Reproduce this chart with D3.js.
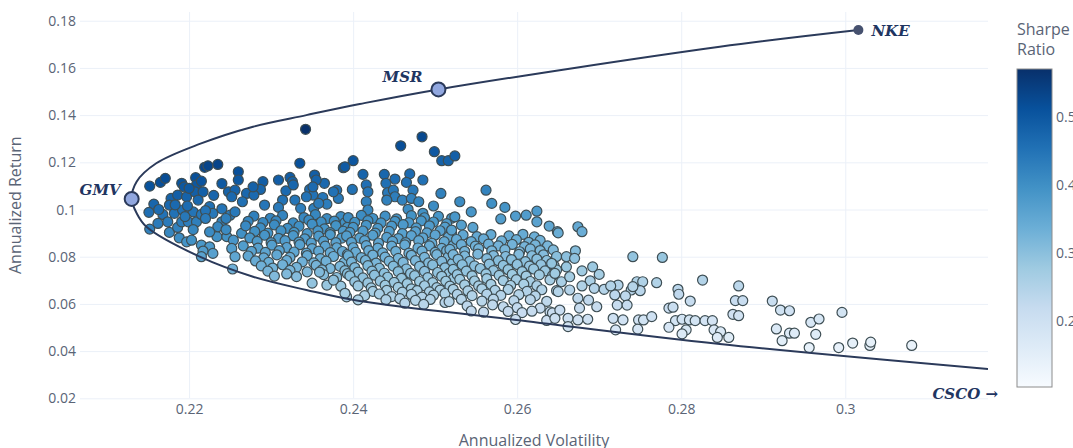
<!DOCTYPE html>
<html>
<head>
<meta charset="utf-8">
<script src="https://cdn.jsdelivr.net/npm/d3@7"></script>
<style>
  body { margin: 0; background: #fff; }
  text { font-family: "Open Sans", sans-serif; }
</style>
</head>
<body>
<div id="chart"></div>
<script>
// simulated portfolios: [annualized volatility, annualized return]
const portfolios = [
  [0.2152,0.1099],[0.2165,0.1115],[0.2171,0.1132],[0.2219,0.1179],[0.2223,0.1185],[0.2235,0.1191],[0.2208,0.1135],[0.2191,0.1111],
  [0.2194,0.1096],[0.2209,0.1104],[0.2178,0.1047],[0.2176,0.1019],[0.2186,0.1061],[0.2197,0.1054],[0.2207,0.1075],[0.2217,0.1075],
  [0.2211,0.1040],[0.2157,0.1023],[0.2151,0.0988],[0.2168,0.0979],[0.2162,0.0941],[0.2174,0.0948],[0.2152,0.0917],[0.2176,0.0903],
  [0.2186,0.0924],[0.2191,0.0948],[0.2199,0.0948],[0.2209,0.0948],[0.2182,0.0984],[0.2192,0.0998],[0.2205,0.0990],[0.2215,0.0979],
  [0.2225,0.1012],[0.2229,0.0984],[0.2240,0.0948],[0.2250,0.0976],[0.2256,0.0990],[0.2248,0.1075],[0.2256,0.1082],[0.2260,0.1160],
  [0.2260,0.1125],[0.2252,0.1054],[0.2188,0.0880],[0.2197,0.0863],[0.2203,0.0870],[0.2215,0.0849],[0.2225,0.0842],[0.2217,0.0824],
  [0.2229,0.0814],[0.2215,0.0800],[0.2234,0.0885],[0.2246,0.0885],[0.2254,0.0870],[0.2252,0.0835],[0.2256,0.0800],[0.2253,0.0748],
  [0.2235,0.0927],[0.2264,0.0899],
  [0.2183,0.1020],[0.2198,0.1015],[0.2220,0.0995],[0.2240,0.1003],[0.2245,0.0962],[0.2220,0.0962],[0.2195,0.0970],[0.2163,0.1000],
  [0.2200,0.1090],[0.2230,0.1060],[0.2240,0.1110],[0.2215,0.1120],[0.2225,0.0905],[0.2245,0.0915],[0.2205,0.0915],
  [0.2342,0.1340],[0.2335,0.1196],[0.2388,0.1177],[0.2290,0.1118],[0.2309,0.1125],[0.2323,0.1136],[0.2326,0.1118],[0.2353,0.1146],
  [0.2365,0.1111],[0.2355,0.1125],[0.2287,0.1085],[0.2270,0.1068],[0.2279,0.1061],[0.2318,0.1079],[0.2347,0.1085],[0.2351,0.1061],
  [0.2380,0.1082],[0.2382,0.1047],[0.2314,0.1040],[0.2329,0.1040],[0.2363,0.1051],[0.2368,0.1023],[0.2309,0.1009],[0.2292,0.1019],
  [0.2265,0.1033],[0.2352,0.1005],[0.2336,0.1005],
  [0.2279,0.0972],[0.2299,0.0963],[0.2314,0.0975],[0.2340,0.0966],[0.2354,0.0978],[0.2368,0.0961],[0.2385,0.0970],
  [0.2272,0.0950],[0.2290,0.0945],[0.2306,0.0952],[0.2327,0.0943],[0.2346,0.0955],[0.2361,0.0947],[0.2377,0.0951],[0.2390,0.0944],
  [0.2269,0.0931],[0.2287,0.0922],[0.2304,0.0935],[0.2320,0.0920],[0.2334,0.0929],[0.2350,0.0938],[0.2365,0.0918],[0.2379,0.0932],[0.2393,0.0924],
  [0.2280,0.0907],[0.2296,0.0900],[0.2312,0.0910],[0.2328,0.0903],[0.2344,0.0898],[0.2357,0.0909],[0.2372,0.0902],[0.2388,0.0908],
  [0.2274,0.0880],[0.2292,0.0891],[0.2309,0.0878],[0.2327,0.0889],[0.2341,0.0876],[0.2358,0.0887],[0.2372,0.0894],[0.2386,0.0879],
  [0.2283,0.0865],[0.2300,0.0860],[0.2317,0.0868],[0.2334,0.0862],[0.2349,0.0858],[0.2364,0.0866],[0.2379,0.0860],
  [0.2266,0.0846],[0.2284,0.0836],[0.2301,0.0849],[0.2319,0.0839],[0.2335,0.0851],[0.2350,0.0834],[0.2366,0.0845],[0.2380,0.0838],
  [0.2276,0.0823],[0.2293,0.0818],[0.2310,0.0826],[0.2328,0.0820],[0.2343,0.0815],[0.2358,0.0824],[0.2372,0.0817],[0.2387,0.0822],
  [0.2272,0.0803],[0.2291,0.0795],[0.2307,0.0808],[0.2323,0.0797],[0.2344,0.0805],[0.2360,0.0792],[0.2376,0.0801],[0.2393,0.0810],
  [0.2281,0.0782],[0.2297,0.0776],[0.2319,0.0784],[0.2338,0.0778],[0.2352,0.0774],[0.2367,0.0781],[0.2389,0.0776],
  [0.2288,0.0761],[0.2302,0.0752],[0.2314,0.0766],[0.2331,0.0755],[0.2355,0.0763],[0.2372,0.0750],[0.2384,0.0759],
  [0.2296,0.0739],[0.2323,0.0742],[0.2344,0.0736],[0.2362,0.0744],[0.2390,0.0741],
  [0.2304,0.0718],[0.2319,0.0727],[0.2331,0.0716],[0.2364,0.0724],[0.2380,0.0712],[0.2393,0.0728],
  [0.2350,0.0688],[0.2368,0.0680],[0.2385,0.0675],
  [0.2392,0.0630],[0.2359,0.0735],[0.2376,0.0701],
  [0.2278,0.1096],[0.2327,0.1104],[0.2343,0.1054],[0.2351,0.1096],[0.2358,0.1026],[0.2376,0.1075],
  [0.2484,0.1308],[0.2458,0.1270],[0.2499,0.1245],[0.2508,0.1207],[0.2516,0.1207],[0.2400,0.1207],[0.2390,0.1181],[0.2412,0.1149],
  [0.2438,0.1149],[0.2451,0.1129],[0.2469,0.1151],[0.2465,0.1115],[0.2485,0.1125],[0.2416,0.1104],[0.2418,0.1075],[0.2399,0.1085],
  [0.2440,0.1111],[0.2442,0.1071],[0.2449,0.1082],[0.2451,0.1054],[0.2460,0.1040],[0.2473,0.1082],[0.2471,0.1047],[0.2480,0.1033],
  [0.2507,0.1068],[0.2498,0.1015],[0.2416,0.1033],[0.2441,0.1040],[0.2418,0.0998],[0.2467,0.1001],[0.2485,0.0984],
  [0.2394,0.0966],[0.2410,0.0975],[0.2424,0.0962],[0.2439,0.0972],[0.2453,0.0960],[0.2471,0.0974],[0.2487,0.0965],[0.2504,0.0971],[0.2520,0.0963],
  [0.2402,0.0946],[0.2418,0.0953],[0.2434,0.0943],[0.2451,0.0950],[0.2468,0.0944],[0.2483,0.0952],[0.2498,0.0947],[0.2514,0.0940],
  [0.2400,0.0924],[0.2416,0.0933],[0.2430,0.0920],[0.2447,0.0930],[0.2461,0.0936],[0.2477,0.0922],[0.2493,0.0931],[0.2512,0.0925],
  [0.2396,0.0903],[0.2412,0.0909],[0.2427,0.0900],[0.2444,0.0907],[0.2460,0.0898],[0.2476,0.0906],[0.2490,0.0901],[0.2506,0.0910],[0.2520,0.0903],
  [0.2392,0.0888],[0.2408,0.0879],[0.2424,0.0891],[0.2441,0.0882],[0.2455,0.0877],[0.2471,0.0889],[0.2485,0.0880],[0.2500,0.0892],[0.2516,0.0883],
  [0.2398,0.0861],[0.2414,0.0868],[0.2431,0.0858],[0.2448,0.0865],[0.2464,0.0860],[0.2480,0.0868],[0.2496,0.0857],[0.2511,0.0864],
  [0.2400,0.0838],[0.2416,0.0847],[0.2430,0.0836],[0.2447,0.0845],[0.2463,0.0850],[0.2479,0.0837],[0.2493,0.0846],[0.2508,0.0835],[0.2522,0.0848],
  [0.2403,0.0819],[0.2419,0.0826],[0.2436,0.0816],[0.2452,0.0823],[0.2468,0.0815],[0.2484,0.0824],[0.2500,0.0818],[0.2514,0.0826],
  [0.2394,0.0804],[0.2410,0.0796],[0.2424,0.0807],[0.2439,0.0798],[0.2455,0.0793],[0.2471,0.0806],[0.2487,0.0797],[0.2502,0.0809],[0.2516,0.0799],
  [0.2398,0.0777],[0.2415,0.0784],[0.2428,0.0773],[0.2444,0.0781],[0.2461,0.0776],[0.2476,0.0783],[0.2492,0.0774],[0.2508,0.0780],[0.2521,0.0772],
  [0.2402,0.0754],[0.2418,0.0762],[0.2432,0.0751],[0.2449,0.0760],[0.2465,0.0748],[0.2481,0.0759],[0.2497,0.0765],[0.2512,0.0753],
  [0.2406,0.0735],[0.2423,0.0739],[0.2438,0.0730],[0.2455,0.0737],[0.2470,0.0729],[0.2487,0.0738],[0.2503,0.0733],[0.2517,0.0729],
  [0.2396,0.0719],[0.2412,0.0710],[0.2426,0.0722],[0.2442,0.0713],[0.2459,0.0708],[0.2475,0.0720],[0.2491,0.0711],[0.2508,0.0717],[0.2522,0.0706],
  [0.2402,0.0694],[0.2418,0.0689],[0.2433,0.0697],[0.2450,0.0691],[0.2466,0.0686],[0.2481,0.0695],[0.2497,0.0690],[0.2513,0.0696],
  [0.2406,0.0676],[0.2422,0.0668],[0.2439,0.0679],[0.2455,0.0670],[0.2471,0.0664],[0.2487,0.0677],[0.2502,0.0669],[0.2518,0.0675],
  [0.2424,0.0653],[0.2441,0.0657],[0.2460,0.0650],[0.2478,0.0656],[0.2493,0.0651],[0.2506,0.0658],
  [0.2414,0.0635],[0.2432,0.0642],[0.2447,0.0631],[0.2471,0.0640],[0.2484,0.0629],[0.2498,0.0637],[0.2512,0.0644],
  [0.2440,0.0618],[0.2457,0.0622],[0.2476,0.0615],[0.2494,0.0619],
  [0.2463,0.0603],[0.2486,0.0598],[0.2512,0.0606],[0.2390,0.0645],[0.2406,0.0617],
  [0.2524,0.1227],[0.2562,0.1082],[0.2530,0.1033],[0.2569,0.1026],[0.2585,0.1009],[0.2544,0.0990],[0.2580,0.0960],[0.2598,0.0972],
  [0.2611,0.0976],[0.2624,0.0993],[0.2624,0.0948],[0.2639,0.0930],[0.2649,0.0906],[0.2524,0.0969],[0.2532,0.0934],[0.2546,0.0924],[0.2520,0.0913],
  [0.2534,0.0892],[0.2551,0.0885],[0.2568,0.0894],[0.2590,0.0888],[0.2607,0.0895],[0.2621,0.0884],
  [0.2526,0.0873],[0.2544,0.0864],[0.2559,0.0876],[0.2581,0.0867],[0.2599,0.0872],[0.2614,0.0861],[0.2628,0.0869],
  [0.2532,0.0851],[0.2549,0.0845],[0.2565,0.0853],[0.2577,0.0846],[0.2594,0.0852],[0.2609,0.0843],[0.2622,0.0850],[0.2637,0.0846],
  [0.2518,0.0831],[0.2536,0.0823],[0.2553,0.0834],[0.2569,0.0825],[0.2585,0.0830],[0.2603,0.0821],[0.2616,0.0833],[0.2628,0.0826],[0.2644,0.0829],
  [0.2522,0.0809],[0.2536,0.0803],[0.2552,0.0811],[0.2571,0.0805],[0.2586,0.0801],[0.2602,0.0810],[0.2618,0.0804],[0.2632,0.0808],[0.2648,0.0801],
  [0.2528,0.0789],[0.2542,0.0780],[0.2563,0.0792],[0.2577,0.0783],[0.2593,0.0788],[0.2610,0.0779],[0.2624,0.0790],[0.2636,0.0784],
  [0.2533,0.0766],[0.2548,0.0761],[0.2566,0.0769],[0.2583,0.0763],[0.2600,0.0767],[0.2615,0.0760],[0.2629,0.0766],[0.2645,0.0762],
  [0.2522,0.0746],[0.2538,0.0739],[0.2555,0.0750],[0.2571,0.0741],[0.2589,0.0745],[0.2606,0.0737],[0.2620,0.0748],[0.2634,0.0740],[0.2648,0.0744],
  [0.2527,0.0724],[0.2545,0.0719],[0.2562,0.0727],[0.2578,0.0721],[0.2594,0.0725],[0.2611,0.0718],[0.2627,0.0723],[0.2643,0.0720],
  [0.2530,0.0704],[0.2548,0.0697],[0.2563,0.0707],[0.2583,0.0699],[0.2599,0.0703],[0.2616,0.0695],[0.2640,0.0702],
  [0.2536,0.0681],[0.2553,0.0676],[0.2568,0.0683],[0.2592,0.0678],[0.2608,0.0684],[0.2624,0.0677],
  [0.2522,0.0662],[0.2540,0.0655],[0.2557,0.0664],[0.2573,0.0657],[0.2589,0.0661],[0.2612,0.0653],[0.2630,0.0660],[0.2648,0.0656],
  [0.2527,0.0640],[0.2545,0.0635],[0.2563,0.0641],[0.2580,0.0636],[0.2602,0.0639],[0.2622,0.0634],
  [0.2532,0.0619],[0.2557,0.0612],[0.2571,0.0620],[0.2596,0.0614],[0.2616,0.0618],[0.2636,0.0611],
  [0.2539,0.0592],[0.2583,0.0588],[0.2600,0.0584],[0.2628,0.0582],
  [0.2544,0.0570],[0.2559,0.0565],[0.2589,0.0568],[0.2606,0.0563],[0.2618,0.0569],[0.2640,0.0566],
  [0.2598,0.0534],[0.2636,0.0530],[0.2517,0.0610],[0.2570,0.0596],[0.2643,0.0562],[0.2642,0.0772],[0.2660,0.0800],
  [0.2650,0.0901],[0.2674,0.0927],[0.2679,0.0906],[0.2671,0.0825],[0.2670,0.0793],[0.2741,0.0800],[0.2777,0.0797],[0.2660,0.0757],
  [0.2679,0.0740],[0.2700,0.0725],[0.2646,0.0729],[0.2654,0.0694],[0.2664,0.0715],[0.2689,0.0698],[0.2679,0.0676],[0.2694,0.0666],
  [0.2706,0.0662],[0.2723,0.0680],[0.2746,0.0694],[0.2753,0.0694],[0.2770,0.0690],[0.2739,0.0659],[0.2750,0.0656],[0.2650,0.0652],
  [0.2664,0.0659],[0.2674,0.0624],[0.2687,0.0616],[0.2697,0.0588],[0.2719,0.0638],[0.2732,0.0634],[0.2722,0.0595],[0.2734,0.0595],
  [0.2676,0.0582],[0.2652,0.0574],[0.2662,0.0539],[0.2674,0.0532],[0.2686,0.0535],[0.2717,0.0539],[0.2729,0.0532],[0.2748,0.0532],
  [0.2754,0.0532],[0.2764,0.0546],[0.2662,0.0504],[0.2720,0.0490],[0.2747,0.0493],[0.2646,0.0539],
  [0.2692,0.0757],[0.2714,0.0676],[0.2741,0.0673],
  [0.2826,0.0701],[0.2870,0.0676],[0.2796,0.0662],[0.2797,0.0641],[0.2811,0.0612],[0.2866,0.0614],[0.2875,0.0614],[0.2863,0.0556],
  [0.2870,0.0550],[0.2785,0.0582],[0.2790,0.0586],[0.2793,0.0529],[0.2801,0.0535],[0.2810,0.0532],[0.2817,0.0529],[0.2829,0.0529],
  [0.2838,0.0529],[0.2785,0.0501],[0.2806,0.0490],[0.2801,0.0473],[0.2840,0.0490],[0.2848,0.0482],[0.2844,0.0458],[0.2858,0.0458],
  [0.2911,0.0612],[0.2921,0.0574],[0.2932,0.0571],[0.2916,0.0494],[0.2923,0.0444],[0.2932,0.0476],[0.2938,0.0476],[0.2958,0.0522],
  [0.2968,0.0536],[0.2964,0.0471],[0.2956,0.0415],[0.2996,0.0564],[0.2992,0.0415],[0.3009,0.0434],[0.3030,0.0424],[0.3031,0.0438],
  [0.3081,0.0424]
];

// efficient frontier, from the CSCO side through GMV up to NKE
const frontier = [
  [0.3174,0.0324],[0.2847,0.0430],[0.2599,0.0532],[0.2408,0.0612],[0.2343,0.0659],[0.2278,0.0715],[0.2213,0.0800],
  [0.2148,0.0927],[0.2136,0.0985],[0.2130,0.1045],[0.2136,0.1118],[0.2160,0.1196],[0.2213,0.1278],[0.2278,0.1351],
  [0.2343,0.1400],[0.2408,0.1447],[0.2504,0.1509],[0.2847,0.1690],[0.3016,0.1761]
];

const gmv = [0.2130, 0.1045];
const msr = [0.2504, 0.1509];
const nke = [0.3016, 0.1761];

const xTicks = [0.22, 0.24, 0.26, 0.28, 0.3];
const yTicks = [0.02, 0.04, 0.06, 0.08, 0.1, 0.12, 0.14, 0.16, 0.18];
const cbTicks = [0.2, 0.3, 0.4, 0.5];
const sharpeRange = [0.104, 0.570];
const blues = ["rgb(247,251,255)","rgb(222,235,247)","rgb(198,219,239)","rgb(158,202,225)",
               "rgb(107,174,214)","rgb(66,146,198)","rgb(33,113,181)","rgb(8,81,156)","rgb(8,48,107)"];

const width = 1073, height = 448;
const plot = {left: 80, right: 988, top: 12, bottom: 398.3};
const textColor = "#5a6476";

const svg = d3.select("#chart").append("svg")
    .attr("width", width)
    .attr("height", height);

const x = d3.scaleLinear().domain([0.2067, 0.3174]).range([plot.left, plot.right]);
const y = d3.scaleLinear().domain([0.02, 0.1837]).range([plot.bottom, plot.top]);

const color = d3.scaleLinear()
    .domain(blues.map((c, i) => sharpeRange[0] + i * (sharpeRange[1] - sharpeRange[0]) / (blues.length - 1)))
    .range(blues)
    .clamp(true);

// grid
svg.append("g")
    .attr("transform", `translate(0,${plot.bottom})`)
    .call(d3.axisBottom(x).tickValues(xTicks).tickSize(-(plot.bottom - plot.top)).tickFormat(""))
    .call(g => g.select(".domain").remove())
    .selectAll("line").attr("stroke", "#ebf0f8");
svg.append("g")
    .attr("transform", `translate(${plot.left},0)`)
    .call(d3.axisLeft(y).tickValues(yTicks).tickSize(-(plot.right - plot.left)).tickFormat(""))
    .call(g => g.select(".domain").remove())
    .selectAll("line").attr("stroke", "#ebf0f8");

// tick labels
svg.append("g")
    .attr("transform", `translate(0,${plot.bottom})`)
    .call(d3.axisBottom(x).tickValues(xTicks).tickSize(0).tickPadding(6).tickFormat(d3.format("~g")))
    .call(g => g.select(".domain").remove())
    .selectAll("text").attr("fill", textColor).style("font-size", "14px").style("font-family", "Open Sans");
svg.append("g")
    .attr("transform", `translate(${plot.left},0)`)
    .call(d3.axisLeft(y).tickValues(yTicks).tickSize(0).tickPadding(4).tickFormat(d3.format("~g")))
    .call(g => g.select(".domain").remove())
    .selectAll("text").attr("fill", textColor).style("font-size", "14px").style("font-family", "Open Sans");

// axis titles
svg.append("text")
    .attr("x", (plot.left + plot.right) / 2)
    .attr("y", 446)
    .attr("text-anchor", "middle")
    .attr("fill", textColor)
    .style("font-size", "16px")
    .text("Annualized Volatility");
svg.append("text")
    .attr("transform", `translate(21,${(plot.top + plot.bottom) / 2}) rotate(-90)`)
    .attr("text-anchor", "middle")
    .attr("fill", textColor)
    .style("font-size", "16px")
    .text("Annualized Return");

// clip
svg.append("defs").append("clipPath").attr("id", "clip")
    .append("rect")
    .attr("x", plot.left).attr("y", plot.top)
    .attr("width", plot.right - plot.left).attr("height", plot.bottom - plot.top);

const area = svg.append("g").attr("clip-path", "url(#clip)");

// portfolios coloured by sharpe ratio (return / volatility)
area.append("g")
    .selectAll("circle")
    .data(portfolios)
    .join("circle")
    .attr("cx", d => x(d[0]))
    .attr("cy", d => y(d[1]))
    .attr("r", 5)
    .attr("fill", d => color(d[1] / d[0]))
    .attr("stroke", "rgb(62,78,84)")
    .attr("stroke-width", 1.2);

// frontier line
const line = d3.line()
    .x(d => x(d[0]))
    .y(d => y(d[1]))
    .curve(d3.curveCatmullRom);

area.append("path")
    .datum(frontier)
    .attr("d", line)
    .attr("fill", "none")
    .attr("stroke", "#2b3a5a")
    .attr("stroke-width", 2);

svg.append("circle")
    .attr("cx", x(nke[0])).attr("cy", y(nke[1]))
    .attr("r", 5)
    .attr("fill", "#46516f");

svg.selectAll(".special")
    .data([gmv, msr])
    .join("circle")
    .attr("class", "special")
    .attr("cx", d => x(d[0]))
    .attr("cy", d => y(d[1]))
    .attr("r", 7)
    .attr("fill", "#91a7df")
    .attr("stroke", "#2b3a5a")
    .attr("stroke-width", 2);

// labels
function label(txt, px, py, anchor) {
    svg.append("text")
        .attr("x", px).attr("y", py)
        .attr("text-anchor", anchor)
        .attr("fill", "#1f3561")
        .style("font-family", "DejaVu Serif, serif")
        .style("font-weight", "bold")
        .style("font-style", "italic")
        .style("font-size", "15px")
        .text(txt);
}
label("GMV", x(gmv[0]) - 11, y(gmv[1]) - 4, "end");
label("MSR", x(msr[0]) - 16, y(msr[1]) - 7, "end");
label("NKE", x(nke[0]) + 13, y(nke[1]) + 6, "start");
label("CSCO \u2192", plot.right + 10, 399, "end");

// colour bar
const cb = {x: 1017, y: 69, w: 35, h: 318};
const grad = svg.select("defs").append("linearGradient")
    .attr("id", "cbgrad")
    .attr("x1", 0).attr("y1", 1).attr("x2", 0).attr("y2", 0);
grad.selectAll("stop")
    .data(blues)
    .join("stop")
    .attr("offset", (d, i) => i / (blues.length - 1))
    .attr("stop-color", d => d);

svg.append("rect")
    .attr("x", cb.x).attr("y", cb.y)
    .attr("width", cb.w).attr("height", cb.h)
    .attr("fill", "url(#cbgrad)")
    .attr("stroke", "#8c8c8c")
    .attr("stroke-width", 1);

const cbScale = d3.scaleLinear().domain(sharpeRange).range([cb.y + cb.h, cb.y]);
svg.append("g")
    .attr("transform", `translate(${cb.x + cb.w},0)`)
    .call(d3.axisRight(cbScale).tickValues(cbTicks).tickSize(0).tickPadding(4).tickFormat(d3.format("~g")))
    .call(g => g.select(".domain").remove())
    .selectAll("text").attr("fill", textColor).style("font-size", "14px").style("font-family", "Open Sans");

svg.append("text")
    .attr("x", cb.x).attr("y", 35)
    .attr("fill", textColor)
    .style("font-size", "16px")
    .text("Sharpe");
svg.append("text")
    .attr("x", cb.x).attr("y", 55)
    .attr("fill", textColor)
    .style("font-size", "16px")
    .text("Ratio");
</script>
</body>
</html>
